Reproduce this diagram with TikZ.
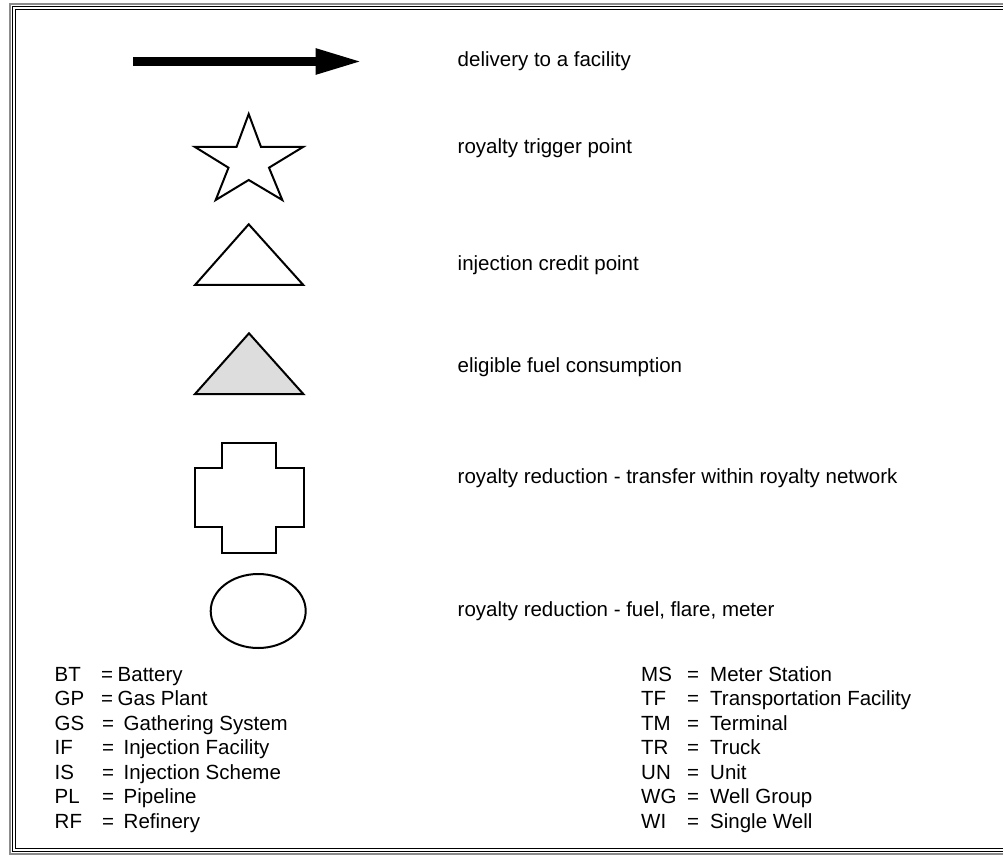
\documentclass[tikz,border=0pt]{standalone}
\usepackage{fontspec}
\setmainfont{Liberation Sans}
\usetikzlibrary{arrows.meta}

\definecolor{gris}{RGB}{221,221,221}

\tikzset{
  texto/.style={anchor=base west, inner sep=0pt, font=\fontsize{20.5}{24}\selectfont},
  simbolo/.style={line width=2pt, line join=miter},
  flecha/.style={line width=8.3pt, -{Triangle[length=46pt 0 0, width=24pt 0 0]}},
  marco/.style={line width=1.4pt}
}

\begin{document}
\begin{tikzpicture}[x=1pt,y=-1pt]
  \useasboundingbox (0,0) rectangle (1003,858);

  % Dibuja el marco
  \draw[marco, black!45] (1003,4) -- (10,4) -- (10,854) -- (1003,854);
  \draw[marco] (1003,6.7) -- (12.7,6.7) -- (12.7,851.3) -- (1003,851.3);
  \draw[marco] (1003,9.4) -- (15.4,9.4) -- (15.4,848.6) -- (1003,848.6);

  % Dibuja la flecha
  \coordinate (inicio) at (133,61.5);
  \coordinate (fin) at (361.7,61.5);
  \draw[flecha] (inicio) -- (fin);

  % Dibuja la estrella
  \draw[simbolo] (248.7,114) -- (261,147) -- (303,147) -- (269,167.7) -- (282.3,200)
    -- (248.7,180) -- (215.7,200) -- (228.5,167.7) -- (195,147) -- (236.5,147) -- cycle;

  % Dibuja los triangulos
  \draw[simbolo] (248.7,224.3) -- (303.3,285) -- (195,285) -- cycle;
  \draw[simbolo, fill=gris] (249,333.3) -- (303.3,394) -- (195,394) -- cycle;

  % Dibuja la cruz
  \draw[simbolo] (222,443.3) -- (276.3,443.3) -- (276.3,468.3) -- (303.7,468.3)
    -- (303.7,527.3) -- (276.3,527.3) -- (276.3,553.3) -- (222,553.3)
    -- (222,527.3) -- (195,527.3) -- (195,468.3) -- (222,468.3) -- cycle;

  % Dibuja la elipse
  \draw[simbolo] (258.2,611) ellipse [x radius=47.5pt, y radius=37pt];

  % Descripciones
  \node[texto] (entrega) at (457.5,66.7) {delivery to a facility};
  \node[texto] (disparo) at (457.5,153.3) {royalty trigger point};
  \node[texto] (credito) at (457.5,270.5) {injection credit point};
  \node[texto] (consumo) at (457.5,372.5) {eligible fuel consumption};
  \node[texto] (transfer) at (457.5,483) {royalty reduction - transfer within royalty network};
  \node[texto] (reduccion) at (457.5,616) {royalty reduction - fuel, flare, meter};

  % Abreviaturas, columna izquierda
  \foreach \ab/\eq/\tx/\desc [count=\i from 0] in {BT/101/117.5/Battery, GP/101/117.5/Gas Plant,
      GS/102/123.5/Gathering System, IF/102/123.5/Injection Facility,
      IS/102/123.5/Injection Scheme, PL/102/123.5/Pipeline, RF/102/123.5/Refinery} {
    \node[texto] (ab-\ab) at (54.5,681+24.5*\i) {\ab};
    \node[texto] (eq-\ab) at (\eq,681+24.5*\i) {=};
    \node[texto] (tx-\ab) at (\tx,681+24.5*\i) {\desc};
  }

  % Abreviaturas, columna derecha
  \foreach \ab/\desc [count=\i from 0] in {MS/Meter Station, TF/Transportation Facility,
      TM/Terminal, TR/Truck, UN/Unit, WG/Well Group, WI/Single Well} {
    \node[texto] (ab-\ab) at (641,681+24.5*\i) {\ab};
    \node[texto] (eq-\ab) at (687,681+24.5*\i) {=};
    \node[texto] (tx-\ab) at (710,681+24.5*\i) {\desc};
  }
\end{tikzpicture}
\end{document}
